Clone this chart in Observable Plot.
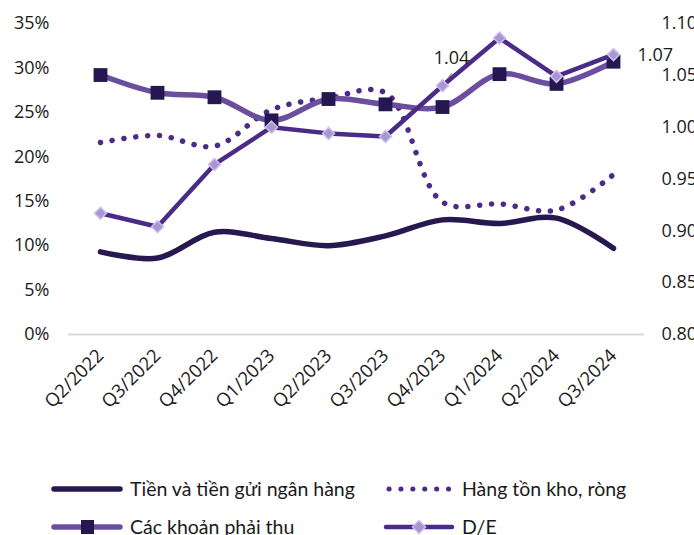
<!DOCTYPE html>
<html>
<head>
<meta charset="utf-8">
<script src="https://cdn.jsdelivr.net/npm/d3@7"></script>
<script src="https://cdn.jsdelivr.net/npm/@observablehq/plot@0.6"></script>
<style>
  html, body { margin: 0; padding: 0; background: #fff; }
  body { width: 694px; height: 535px; overflow: hidden; font-family: "Open Sans", sans-serif; }
  #chart { position: relative; width: 694px; }
  #legend { position: relative; width: 694px; height: 85px; font-family: Lato, "Open Sans", sans-serif; font-size: 19.5px; color: #1a1a1a; }
  .item { position: absolute; display: flex; align-items: center; white-space: nowrap; }
  .item svg { margin-right: 7px; }
</style>
</head>
<body>
<div id="chart"></div>
<div id="legend"></div>
<script>
const quarters = ["Q2/2022","Q3/2022","Q4/2022","Q1/2023","Q2/2023","Q3/2023","Q4/2023","Q1/2024","Q2/2024","Q3/2024"];
const cash = [9.3, 8.6, 11.5, 10.8, 10.0, 11.1, 12.9, 12.5, 13.1, 9.7];
const inventory = [21.6, 22.4, 21.2, 25.3, 26.6, 27.2, 14.9, 14.7, 14.0, 18.0];
const receivables = [29.2, 27.2, 26.7, 24.1, 26.5, 25.9, 25.6, 29.3, 28.2, 30.7];
const de = [0.917, 0.904, 0.964, 1.00, 0.994, 0.991, 1.04, 1.086, 1.049, 1.07];
const leftTicks = [0, 5, 10, 15, 20, 25, 30, 35];
const rightTicks = [0.80, 0.85, 0.90, 0.95, 1.00, 1.05, 1.10];
const deLabels = [{i: 6, text: "1.04"}, {i: 9, text: "1.07"}];
const seriesNames = ["Tiền và tiền gửi ngân hàng", "Hàng tồn kho, ròng", "Các khoản phải thu", "D/E"];

const C_CASH = "#27184f", C_INV = "#4b2b86", C_REC = "#6b4f9e", C_REC_M = "#251851",
      C_DE = "#4a2b87", C_DE_F = "#a896cf", C_DE_S = "#cdbdf0";

// map D/E (right axis 0.80..1.10) onto the left scale (0..35)
const deMin = 0.80, deMax = 1.10, leftMax = 35;
const toLeft = v => (v - deMin) / (deMax - deMin) * leftMax;
const fromLeft = v => deMin + v / leftMax * (deMax - deMin);

const rows = quarters.map((q, i) => ({q, cash: cash[i], inv: inventory[i], rec: receivables[i], de: de[i], deL: toLeft(de[i])}));
const labelRows = deLabels.map(d => ({q: quarters[d.i], y: toLeft(de[d.i]), text: d.text}));

const lineShape = { draw(ctx, l) { ctx.moveTo(0, 0); ctx.lineTo(0, -l); } };

const chart = Plot.plot({
  width: 694,
  height: 450,
  marginLeft: 68,
  marginRight: 50,
  marginTop: 23,
  marginBottom: 116,
  style: { fontFamily: "Open Sans, sans-serif", fontSize: "18px", color: "#1a1a1a", background: "#fff" },
  x: { type: "point", domain: quarters, padding: 0.5 },
  y: { domain: [0, 35] },
  marks: [
    Plot.ruleY([0], { stroke: "#d9d9d9", strokeWidth: 2 }),
    Plot.axisY({ ticks: leftTicks, tickSize: 0, tickPadding: 19, tickFormat: d => d + "%", label: null, fontSize: 18 }),
    Plot.axisY({ anchor: "right", ticks: rightTicks.map(toLeft), tickSize: 0, tickPadding: 17, tickFormat: d => fromLeft(d).toFixed(2), label: null, fontSize: 18 }),
    Plot.axisX({ tickRotate: -45, tickSize: 0, tickPadding: 18, label: null, fontSize: 18.5 }),
    Plot.line(rows, { x: "q", y: "cash", stroke: C_CASH, strokeWidth: 5.5, curve: "catmull-rom" }),
    Plot.line(rows, { x: "q", y: "inv", stroke: C_INV, strokeWidth: 5.5, curve: "catmull-rom", strokeDasharray: "0.1 11.8", strokeLinecap: "round" }),
    Plot.line(rows, { x: "q", y: "rec", stroke: C_REC, strokeWidth: 5.5, curve: "catmull-rom" }),
    Plot.dot(rows, { x: "q", y: "rec", symbol: "square", r: 7.8, fill: C_REC_M, stroke: "none" }),
    Plot.vector(labelRows.slice(0, 1), { x: "q", y: "y", length: 15, rotate: 37, anchor: "start", shape: lineShape, stroke: "#a6a6a6", strokeWidth: 1.5 }),
    Plot.line(rows, { x: "q", y: "deL", stroke: C_DE, strokeWidth: 4.5 }),
    Plot.dot(rows, { x: "q", y: "deL", symbol: "diamond2", r: 5.4, fill: C_DE_F, stroke: C_DE_S, strokeWidth: 1.5 }),
    Plot.text(labelRows.slice(0, 1), { x: "q", y: "y", text: "text", dx: 9, dy: -27, fontSize: 18, fill: "#1a1a1a" }),
    Plot.text(labelRows.slice(1), { x: "q", y: "y", text: "text", dx: 24, dy: 1, textAnchor: "start", fontSize: 18, fill: "#1a1a1a" })
  ]
});
document.getElementById("chart").appendChild(chart);

// legend
const legend = document.getElementById("legend");
function swatch(kind) {
  const ns = "http://www.w3.org/2000/svg";
  const s = document.createElementNS(ns, "svg");
  s.setAttribute("width", 72); s.setAttribute("height", 16);
  let html = "";
  if (kind === 0) html = `<line x1="3" y1="8" x2="69" y2="8" stroke="${C_CASH}" stroke-width="5.5" stroke-linecap="round"/>`;
  if (kind === 1) html = `<line x1="6" y1="8" x2="68" y2="8" stroke="${C_INV}" stroke-width="5" stroke-linecap="round" stroke-dasharray="0.1 11.8"/>`;
  if (kind === 2) html = `<line x1="3" y1="8" x2="69" y2="8" stroke="${C_REC}" stroke-width="5.5" stroke-linecap="round"/><rect x="30" y="1" width="13" height="14" fill="${C_REC_M}"/>`;
  if (kind === 3) html = `<line x1="3" y1="8" x2="69" y2="8" stroke="${C_DE}" stroke-width="4.5" stroke-linecap="round"/><path d="M36 1.5 L42.5 8 L36 14.5 L29.5 8 Z" fill="${C_DE_F}" stroke="${C_DE_S}" stroke-width="1.5"/>`;
  s.innerHTML = html;
  return s;
}
const pos = [[51, 40], [383, 40], [51, 78], [383, 78]];
seriesNames.forEach((name, k) => {
  const d = document.createElement("div");
  d.className = "item";
  d.style.left = pos[k][0] + "px";
  d.style.top = (pos[k][1] - 13) + "px";
  d.appendChild(swatch(k));
  const t = document.createElement("span");
  t.textContent = name;
  d.appendChild(t);
  legend.appendChild(d);
});
</script>
</body>
</html>
